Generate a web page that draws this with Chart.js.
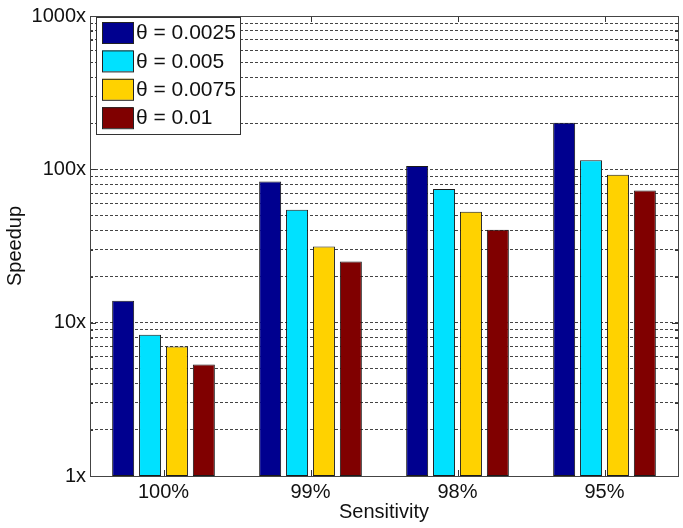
<!DOCTYPE html>
<html>
<head>
<meta charset="utf-8">
<script src="https://cdn.jsdelivr.net/npm/chart.js@4"></script>
<style>
html,body{margin:0;padding:0;background:#fff;}
#wrap{width:683px;height:528px;}
</style>
</head>
<body>
<div id="wrap"><canvas id="c" width="683" height="528"></canvas></div>
<script>
const categories = ['100%', '99%', '98%', '95%'];
const seriesNames = ['θ = 0.0025', 'θ = 0.005', 'θ = 0.0075', 'θ = 0.01'];
const s1 = [13.9, 83.4, 105, 201];
const s2 = [8.34, 54.5, 74.5, 114.6];
const s3 = [7.0, 31.4, 52.9, 92.1];
const s4 = [5.33, 25.1, 40.4, 72.9];
const yTickValues = [1,2,3,4,5,6,7,8,9,10,20,30,40,50,60,70,80,90,100,200,300,400,500,600,700,800,900,1000];
const yLabelValues = [1, 10, 100, 1000];
const colors = ['#00008F', '#00E1FF', '#FFD200', '#800000'];

const FONT = '"Liberation Sans", Arial, sans-serif';
const L = 90, R = 678, T = 12, B = 476;

const framePlugin = {
  id: 'frame',
  afterDatasetsDraw(chart) {
    const ctx = chart.ctx, a = chart.chartArea;
    const y = chart.scales.y, x = chart.scales.x;
    ctx.save();
    ctx.strokeStyle = '#333';
    ctx.lineWidth = 1;
    ctx.setLineDash([]);
    ctx.beginPath();
    yTickValues.forEach(v => {
      const py = Math.round(y.getPixelForValue(v)) + 0.5;
      const len = yLabelValues.includes(v) ? 6 : 3;
      ctx.moveTo(a.left, py); ctx.lineTo(a.left + len, py);
      ctx.moveTo(a.right, py); ctx.lineTo(a.right - len, py);
    });
    categories.forEach((c, i) => {
      const px = Math.round(x.getPixelForValue(i)) + 0.5;
      ctx.moveTo(px, a.bottom); ctx.lineTo(px, a.bottom - 6);
      ctx.moveTo(px, a.top); ctx.lineTo(px, a.top + 6);
    });
    ctx.stroke();
    ctx.strokeStyle = '#444';
    ctx.strokeRect(Math.round(a.left) + 0.5, Math.round(a.top) + 0.5, Math.round(a.right - a.left), Math.round(a.bottom - a.top));
    ctx.restore();
  },
  afterDraw(chart) {
    const ctx = chart.ctx;
    ctx.save();
    const bx = 96, by = 17, bw = 144, bh = 117;
    ctx.fillStyle = '#fff';
    ctx.fillRect(bx, by, bw, bh);
    ctx.strokeStyle = '#333';
    ctx.lineWidth = 1;
    ctx.strokeRect(bx + 0.5, by + 0.5, bw, bh);
    ctx.font = '21px ' + FONT;
    ctx.textBaseline = 'middle';
    chart.data.datasets.forEach((ds, i) => {
      const ry = 22 + i * 28.4;
      ctx.fillStyle = ds.backgroundColor;
      ctx.fillRect(102, ry, 31, 21);
      ctx.strokeStyle = '#222';
      ctx.strokeRect(102.5, ry + 0.5, 31, 21);
      ctx.fillStyle = '#111';
      ctx.fillText(ds.label, 136, ry + 11.5);
    });
    ctx.restore();
  }
};

const seriesData = [s1, s2, s3, s4];
new Chart(document.getElementById('c'), {
  type: 'bar',
  data: {
    labels: categories,
    datasets: seriesData.map((d, i) => ({
      label: seriesNames[i],
      data: d,
      backgroundColor: colors[i],
      borderColor: '#1a1a1a',
      borderWidth: 1,
      borderSkipped: false,
      categoryPercentage: 0.732,
      barPercentage: 0.818
    }))
  },
  options: {
    responsive: false,
    animation: false,
    devicePixelRatio: 1,
    layout: { padding: { top: T, right: 683 - R, left: 3, bottom: 0 } },
    plugins: { legend: { display: false }, tooltip: { enabled: false } },
    scales: {
      x: {
        grid: { display: false },
        border: { display: false },
        ticks: { color: '#111', font: { family: FONT, size: 20 }, padding: -4 },
        title: { display: true, text: 'Sensitivity', color: '#111', font: { family: FONT, size: 20 }, padding: { top: 0, bottom: 4 } },
        afterFit(s) { s.height = 528 - B; }
      },
      y: {
        type: 'logarithmic',
        min: 1, max: 1000,
        afterBuildTicks(s) {
          s.ticks = yTickValues.map(v => ({ value: v, major: yLabelValues.includes(v) }));
        },
        grid: {
          color: '#444',
          lineWidth: 1,
          drawTicks: false
        },
        border: { display: false, dash: [3, 2] },
        ticks: {
          autoSkip: false,
          color: '#111',
          padding: 4,
          font: { family: FONT, size: 20 },
          callback: (v) => yLabelValues.includes(v) ? v + 'x' : ''
        },
        title: { display: true, text: 'Speedup', color: '#111', font: { family: FONT, size: 20 }, padding: { top: 0, bottom: 0 } },
        afterFit(s) { s.width = L - 3; }
      }
    }
  },
  plugins: [framePlugin]
});
</script>
</body>
</html>
